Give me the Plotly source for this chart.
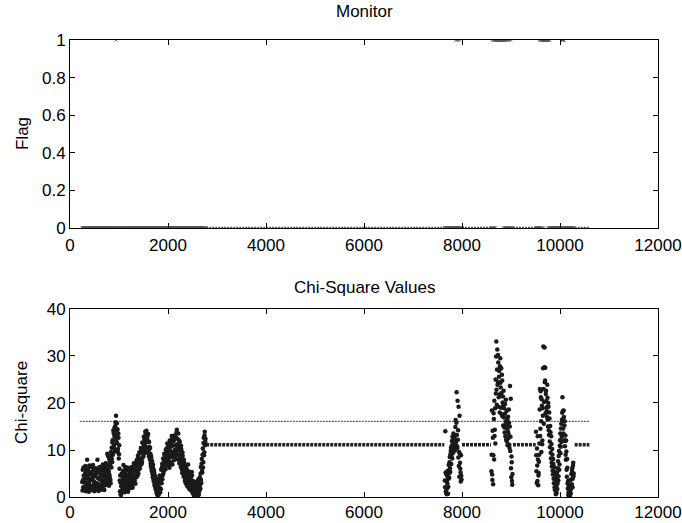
import plotly.graph_objects as go

# ---------------- data ----------------
STEP = 10  # sample spacing inside each list; the "b" lists sit half a step later

# stretch 1 : x = 250 ... 2770
seg1_start = 250
seg1_values = [
    3.2, 5.8, 2.1, 4.5, 6.2, 1.8, 3.9, 5.1, 2.7, 4.4,
    7.9, 3.1, 1.6, 5.4, 2.9, 4.8, 6.5, 2.2, 3.6, 5.0,
    1.9, 4.1, 6.8, 2.5, 3.3, 5.6, 1.4, 4.7, 3.0, 2.2,
    5.3, 7.9, 2.8, 4.0, 1.7, 3.8, 6.1, 2.4, 4.9, 3.5,
    2.0, 5.7, 6.9, 3.2, 4.3, 1.5, 5.9, 3.7, 7.2, 2.6,
    4.6, 9.2, 6.0, 3.4, 5.5, 8.1, 4.2, 6.7, 2.9, 8.8,
    10.5, 7.4, 12.1, 9.3, 13.6, 11.0, 14.8, 12.7, 15.9, 17.3,
    13.9, 11.5, 14.4, 10.2, 12.6, 9.1, 6.0, 1.2, 3.1, 0.4,
    2.8, 4.5, 1.9, 3.7, 6.8, 2.6, 5.2, 4.0, 1.5, 3.3,
    5.7, 2.2, 4.4, 3.0, 6.1, 1.8, 4.9, 3.6, 2.4, 5.3,
    3.1, 6.4, 4.7, 2.0, 5.8, 4.1, 7.0, 3.5, 5.5, 4.3,
    6.9, 5.1, 7.6, 4.6, 6.3, 8.4, 5.9, 7.2, 9.3, 6.8,
    8.0, 10.1, 7.5, 9.6, 11.4, 8.7, 10.8, 12.3, 9.9, 13.2,
    11.6, 14.1, 10.4, 12.9, 9.5, 11.8, 8.6, 10.7, 7.9, 9.2,
    6.5, 8.3, 5.4, 7.1, 4.2, 6.0, 3.3, 5.1, 2.4, 4.0,
    1.6, 3.4, 0.8, 2.7, 1.3, 3.9, 0.5, 2.1, 4.6, 1.0,
    3.5, 5.8, 2.9, 7.0, 4.6, 8.2, 5.5, 6.7, 9.0, 7.3,
    5.9, 8.6, 10.3, 6.8, 9.4, 7.7, 11.1, 8.3, 6.2, 9.8,
    7.4, 10.7, 8.9, 12.2, 6.9, 9.5, 11.8, 7.8, 13.1, 10.0,
    8.5, 12.6, 9.7, 14.3, 11.2, 8.0, 13.5, 10.4, 7.2, 11.7,
    9.1, 6.4, 10.2, 7.6, 5.1, 8.8, 6.2, 4.3, 7.3, 5.5,
    3.6, 6.5, 4.8, 2.7, 5.7, 3.9, 6.9, 2.1, 4.4, 3.0,
    5.2, 1.5, 3.7, 2.4, 4.6, 0.9, 2.8, 1.6, 3.3, 0.6,
    2.0, 0.3, 1.4, 3.1, 0.7, 2.5, 1.2, 3.8, 0.5, 2.9,
    4.2, 1.8, 6.4, 3.0, 8.1, 5.2, 10.3, 7.4, 12.6, 9.5,
    13.9, 11.8, 11.2,
]
seg1b_values = [
    1.4, 3.6, 6.3, 2.0, 3.1, 4.9, 6.6, 1.2, 5.7, 2.3,
    4.2, 6.0, 3.9, 1.1, 6.7, 2.4, 3.8, 5.3, 1.5, 6.4,
    3.7, 2.2, 4.6, 5.9, 1.2, 3.0, 4.4, 6.1, 2.0, 5.2,
    2.6, 4.1, 6.0, 1.3, 5.2, 6.4, 2.0, 4.8, 1.6, 5.9,
    4.4, 2.9, 1.6, 6.2, 2.4, 5.1, 3.0, 6.5, 4.1, 5.6,
    6.8, 3.1, 8.7, 5.2, 2.4, 4.7, 7.5, 3.6, 9.6, 6.3,
    8.1, 11.6, 9.0, 14.2, 10.4, 13.0, 9.8, 15.1, 13.4, 11.9,
    15.7, 12.8, 9.6, 13.5, 8.2, 11.0, 3.5, 4.6, 0.6, 2.3,
    5.0, 1.2, 3.4, 5.6, 2.0, 4.3, 1.0, 6.4, 2.7, 4.8,
    1.5, 4.0, 6.3, 1.1, 3.4, 5.6, 2.5, 6.0, 4.2, 1.9,
    5.2, 2.6, 3.5, 6.1, 3.0, 7.2, 4.6, 6.3, 2.8, 7.4,
    4.2, 7.9, 5.5, 8.8, 5.0, 7.4, 9.5, 6.1, 8.0, 10.4,
    9.9, 7.1, 11.6, 8.4, 10.2, 12.8, 9.4, 11.1, 13.9, 10.6,
    13.0, 9.4, 12.4, 10.1, 13.4, 9.9, 11.7, 9.0, 10.4, 7.1,
    8.7, 5.9, 7.6, 4.8, 6.8, 3.7, 5.6, 2.6, 4.5, 1.9,
    3.5, 1.2, 2.9, 0.4, 2.2, 1.0, 3.2, 0.9, 1.8, 3.0,
    1.7, 4.4, 6.2, 3.8, 6.4, 5.0, 7.6, 9.2, 6.1, 8.7,
    10.0, 6.7, 8.0, 11.4, 7.5, 10.6, 8.9, 10.1, 12.0, 7.0,
    11.5, 8.5, 13.0, 9.6, 10.9, 12.7, 8.7, 12.2, 9.5, 12.9,
    11.0, 9.2, 13.8, 10.5, 12.4, 10.1, 9.0, 12.0, 9.9, 8.6,
    7.7, 10.9, 8.4, 5.8, 9.5, 6.9, 4.9, 7.9, 5.4, 3.4,
    5.1, 2.9, 6.0, 4.1, 2.3, 5.0, 3.3, 5.4, 1.7, 4.9,
    3.0, 4.1, 2.0, 5.3, 1.3, 3.4, 2.1, 0.4, 2.2, 1.5,
    0.8, 2.7, 0.5, 1.9, 2.2, 0.4, 3.4, 1.0, 2.3, 1.4,
    2.6, 5.0, 3.6, 7.1, 5.6, 9.0, 6.3, 11.5, 8.9, 13.1,
    11.0, 12.4,
]

# stretch 2 : x = 7650 ... 7990
seg2_start = 7650
seg2_values = [
    3.5, 14.0, 1.2, 4.8, 0.6, 2.9, 5.6, 2.2, 6.8, 4.1,
    8.5, 5.3, 9.8, 7.0, 10.9, 8.2, 11.6, 9.4, 12.3, 10.6,
    13.1, 11.2, 16.4, 12.0, 22.3, 10.8, 20.5, 14.2, 19.2, 9.6,
    17.3, 7.3, 5.2, 8.9, 3.7,
]
seg2b_values = [
    2.1, 5.2, 0.9, 3.4, 1.8, 4.3, 0.7, 3.9, 5.0, 7.4,
    6.1, 9.1, 10.5, 8.6, 11.9, 12.8, 10.0, 13.5, 11.5, 12.5,
    9.9, 14.9, 11.6, 15.8, 13.2, 10.4, 12.2, 8.4, 6.6, 4.3,
    9.2, 6.0, 3.3, 4.5,
]

# stretch 3 : x = 8600 ... 9030
seg3_start = 8600
seg3_values = [
    5.5, 18.4, 3.6, 12.6, 8.9, 16.6, 20.5, 14.3, 11.4, 22.0,
    33.1, 19.6, 31.4, 24.5, 28.6, 21.2, 26.8, 18.0, 29.5, 23.3,
    27.4, 17.6, 24.8, 20.1, 15.2, 22.6, 18.9, 13.7, 19.8, 16.0,
    12.2, 18.3, 14.6, 11.0, 17.1, 13.4, 15.8, 10.4, 23.6, 12.8,
    6.1, 8.6, 3.4, 4.9,
]
seg3b_values = [
    9.0, 4.8, 14.1, 2.7, 17.8, 8.0, 13.0, 18.9, 25.0, 29.9,
    22.8, 27.1, 23.9, 30.2, 19.2, 25.6, 21.8, 27.8, 24.3, 19.0,
    22.1, 26.0, 17.2, 21.4, 19.5, 16.9, 14.8, 17.7, 12.9, 20.7,
    15.4, 11.8, 16.5, 14.0, 12.5, 18.6, 11.1, 15.0, 9.8, 20.9,
    4.2, 7.4, 2.6,
]

# stretch 4 : x = 9510 ... 10280
seg4_start = 9510
seg4_values = [
    13.9, 5.5, 10.3, 3.4, 8.0, 4.6, 7.5, 11.4, 23.0, 14.5,
    21.2, 9.6, 19.4, 12.0, 17.3, 32.0, 15.6, 27.6, 24.4, 27.5,
    21.9, 20.4, 18.3, 23.9, 16.5, 20.0, 14.2, 18.0, 11.8, 15.1,
    9.4, 12.9, 7.3, 10.2, 5.6, 8.1, 3.9, 6.4, 2.1, 4.7,
    1.3, 3.5, 0.9, 5.2, 2.8, 7.6, 4.4, 9.8, 6.9, 12.1,
    9.3, 14.6, 11.7, 16.4, 21.2, 18.3, 13.5, 17.0, 15.2, 10.8,
    13.1, 7.9, 9.7, 4.3, 6.2, 1.8, 0.4, 2.5, 0.2, 1.1,
    3.6, 0.8, 4.9, 2.7, 6.1, 3.9, 7.3, 5.0,
]
seg4b_values = [
    8.9, 3.0, 6.7, 12.9, 2.5, 5.1, 9.0, 18.6, 13.0, 22.5,
    16.1, 20.8, 11.2, 18.9, 27.4, 23.0, 20.2, 31.8, 24.8, 17.8,
    22.6, 19.1, 17.0, 21.1, 15.0, 19.2, 13.2, 16.7, 10.6, 13.8,
    8.2, 11.3, 6.5, 9.0, 4.8, 7.0, 2.9, 5.4, 1.6, 3.0,
    0.6, 2.2, 4.0, 1.7, 6.1, 3.5, 8.7, 5.8, 10.9, 13.5,
    10.7, 15.6, 12.8, 17.9, 16.6, 14.6, 18.4, 12.1, 16.1, 11.9,
    9.0, 12.0, 5.8, 8.1, 2.9, 3.4, 1.0, 0.5, 1.6, 0.3,
    2.3, 1.7, 3.8, 5.6, 2.1, 6.7, 4.4,
]

# stretches where the statistic is held at a constant level
hold_starts = [2780, 8000, 9040, 10300]
hold_ends = [7640, 8590, 9505, 10600]
HOLD_LEVEL = 11.1

THRESHOLD = 16.1
threshold_x = [200, 10600]

x_ticks = [0, 2000, 4000, 6000, 8000, 10000, 12000]
x_tick_labels = ["0", "2000", "4000", "6000", "8000", "10000", "12000"]
flag_ticks = [0, 0.2, 0.4, 0.6, 0.8, 1]
flag_tick_labels = ["0", "0.2", "0.4", "0.6", "0.8", "1"]
chi_ticks = [0, 10, 20, 30, 40]

# ---------------- assemble ----------------
segments = [
    (seg1_start, seg1_values), (seg1_start + STEP / 2, seg1b_values),
    (seg2_start, seg2_values), (seg2_start + STEP / 2, seg2b_values),
    (seg3_start, seg3_values), (seg3_start + STEP / 2, seg3b_values),
    (seg4_start, seg4_values), (seg4_start + STEP / 2, seg4b_values),
]
chi_x, chi_y = [], []
for start, vals in segments:
    chi_x += [start + i * STEP for i in range(len(vals))]
    chi_y += vals
flag_y = [1 if v > THRESHOLD else 0 for v in chi_y]

INK = "#1a1a1a"
FONT = "Liberation Sans, Arial, Helvetica, sans-serif"
TICK_SIZE = 17
TITLE_SIZE = 17

fig = go.Figure()

# ---- top: Monitor ----
for s, e in zip(hold_starts, hold_ends):
    fig.add_trace(go.Scatter(x=[s, e], y=[0, 0], mode="lines",
                             line=dict(color="#555", width=2.5, dash="2px,1px"),
                             xaxis="x", yaxis="y", showlegend=False, hoverinfo="skip"))
fig.add_trace(go.Scatter(x=chi_x, y=flag_y, mode="markers",
                         marker=dict(symbol="x-thin", size=3, color="#555",
                                     line=dict(width=0.7, color="#555")),
                         xaxis="x", yaxis="y", showlegend=False))

# ---- bottom: Chi-square ----
fig.add_trace(go.Scatter(x=threshold_x, y=[THRESHOLD, THRESHOLD], mode="lines",
                         line=dict(color="#333", width=1, dash="2px,1px"),
                         xaxis="x2", yaxis="y2", showlegend=False, hoverinfo="skip"))
for s, e in zip(hold_starts, hold_ends):
    fig.add_trace(go.Scatter(x=[s, e], y=[HOLD_LEVEL, HOLD_LEVEL], mode="lines",
                             line=dict(color="#222", width=3.5, dash="3px,1px"),
                             xaxis="x2", yaxis="y2", showlegend=False, hoverinfo="skip"))
fig.add_trace(go.Scatter(x=chi_x, y=chi_y, mode="markers",
                         marker=dict(symbol="circle", size=4.5, color=INK,
                                     line=dict(width=0)),
                         xaxis="x2", yaxis="y2", showlegend=False))

axis_common = dict(showline=True, linecolor="black", linewidth=1, mirror="ticks",
                   ticks="inside", ticklen=5, tickcolor="black", showgrid=False,
                   zeroline=False, automargin=False, ticklabeloverflow="allow",
                   tickfont=dict(family=FONT, size=TICK_SIZE, color="black"))

fig.update_layout(
    width=682, height=523,
    margin=dict(l=70, r=24, t=40, b=26),
    paper_bgcolor="white", plot_bgcolor="white",
    font=dict(family=FONT, color="black"),
    xaxis=dict(domain=[0, 1], range=[0, 12000], tickvals=x_ticks,
               ticktext=x_tick_labels, anchor="y", ticklabelstandoff=2, **axis_common),
    yaxis=dict(domain=[0.5886, 1], range=[0, 1], tickvals=flag_ticks,
               ticktext=flag_tick_labels, anchor="x", **axis_common),
    xaxis2=dict(domain=[0, 1], range=[0, 12000], tickvals=x_ticks,
                ticktext=x_tick_labels, anchor="y2", ticklabelstandoff=0, **axis_common),
    yaxis2=dict(domain=[0, 0.4114], range=[0, 40], tickvals=chi_ticks, anchor="x2",
                **axis_common),
    annotations=[
        dict(text="Monitor", x=0.5, y=1.0613, xref="paper", yref="paper",
             xanchor="center", yanchor="middle", showarrow=False,
             font=dict(family=FONT, size=TITLE_SIZE, color="black")),
        dict(text="Chi-Square Values", x=0.5, y=0.4595, xref="paper", yref="paper",
             xanchor="center", yanchor="middle", showarrow=False,
             font=dict(family=FONT, size=TITLE_SIZE, color="black")),
        dict(text="Flag", x=-0.0816, y=0.7943, xref="paper", yref="paper",
             xanchor="center", yanchor="middle", textangle=-90, showarrow=False,
             font=dict(family=FONT, size=TITLE_SIZE, color="black")),
        dict(text="Chi-square", x=-0.0816, y=0.2057, xref="paper", yref="paper",
             xanchor="center", yanchor="middle", textangle=-90, showarrow=False,
             font=dict(family=FONT, size=TITLE_SIZE, color="black")),
    ],
)

fig.write_html(
    "out.html",
    config={"displayModeBar": False},
    post_script="document.body.style.margin='0';document.body.style.overflow='hidden';",
)
